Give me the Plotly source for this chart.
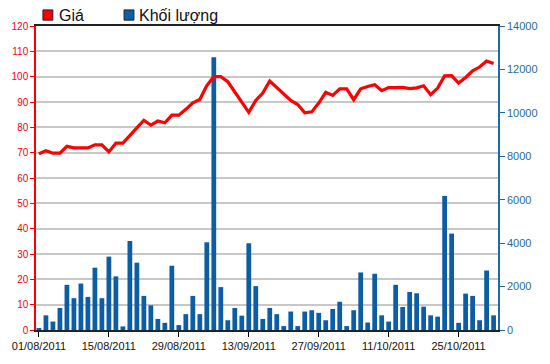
import pandas as pd
import plotly.graph_objects as go

# trading days 01/08/2011 .. 01/11/2011 (02/09 national holiday)
days = [d for d in pd.bdate_range("2011-08-01", "2011-11-01") if d.strftime("%d/%m") != "02/09"]
dates = [d.strftime("%d/%m/%Y") for d in days]

price = [69.6, 70.8, 69.8, 69.8, 72.5, 71.9, 71.9, 71.9, 73.1, 73.1,
         70.3, 73.8, 73.8, 77.0, 79.8, 82.8, 80.9, 82.5, 81.8, 84.8,
         84.8, 87.1, 89.7, 91.0, 96.5, 100.0, 100.0, 98.0, 94.0, 89.5,
         85.9, 90.6, 93.5, 98.3, 95.8, 93.2, 90.6, 89.0, 85.7, 86.1,
         89.6, 93.8, 92.6, 95.2, 95.2, 90.9, 95.2, 96.1, 96.8, 94.5,
         95.7, 95.7, 95.8, 95.3, 95.6, 96.4, 92.9, 95.5, 100.3, 100.4,
         97.5, 99.7, 102.3, 103.8, 106.2, 105.2]

volume = [75, 675, 390, 1015, 2080, 1465, 2140, 1525, 2870, 1465,
          3380, 2470, 165, 4100, 3100, 1570, 1135, 510, 330, 2960,
          225, 730, 1570, 730, 4040, 12560, 1975, 450, 1015, 660,
          3995, 2020, 510, 1015, 730, 180, 850, 180, 850, 910,
          790, 450, 970, 1300, 180, 910, 2650, 345, 2590, 675,
          390, 2080, 1060, 1750, 1690, 1075, 675, 615, 6175, 4440,
          330, 1675, 1570, 450, 2740, 675]

tick_labels = ["01/08/2011", "15/08/2011", "29/08/2011", "13/09/2011",
               "27/09/2011", "11/10/2011", "25/10/2011"]
legend_names = ["Giá", "Khối lượng"]

RED = "#ff0000"
BLUE = "#0b5ea6"
AXBLUE = "#1f6aa5"
FONT = "Liberation Sans, Arial, sans-serif"

fig = go.Figure()
fig.add_trace(go.Bar(x=dates, y=volume, name=legend_names[1], yaxis="y",
                     marker=dict(color=BLUE, line=dict(width=0)), showlegend=False))
fig.add_trace(go.Scatter(x=dates, y=price, name=legend_names[0], yaxis="y2",
                         mode="lines", line=dict(color=RED, width=3.2), showlegend=False))

L, R, T, B = 35, 48, 26, 26
W, H = 550, 364
PW, PH = W - L - R, H - T - B


def px(x):
    return (x - L) / PW


def py(y):
    return (H - B - y) / PH


shapes = [
    dict(type="rect", xref="paper", yref="paper", x0=px(42), x1=px(52), y0=py(20), y1=py(9.5),
         fillcolor=RED, line=dict(color="#222", width=1)),
    dict(type="rect", xref="paper", yref="paper", x0=px(124), x1=px(134), y0=py(20), y1=py(9.5),
         fillcolor=BLUE, line=dict(color="#222", width=1)),
]
annotations = [
    dict(xref="paper", yref="paper", x=px(56), y=py(15), xanchor="left", yanchor="middle",
         text=legend_names[0], showarrow=False, font=dict(family=FONT, size=16, color="#111")),
    dict(xref="paper", yref="paper", x=px(137), y=py(15), xanchor="left", yanchor="middle",
         text=legend_names[1], showarrow=False, font=dict(family=FONT, size=16, color="#111")),
]

fig.update_layout(
    width=W, height=H,
    margin=dict(l=L, r=R, t=T, b=B, pad=0),
    paper_bgcolor="white", plot_bgcolor="white",
    bargap=0.32,
    shapes=shapes, annotations=annotations,
    xaxis=dict(type="category", range=[-0.42, 65.63],
               tickmode="array", tickvals=tick_labels, ticktext=tick_labels,
               ticks="outside", ticklen=5, tickcolor="#000", tickwidth=1,
               showline=True, linecolor="#222", linewidth=1.5, mirror=True,
               showgrid=False, tickangle=0,
               tickfont=dict(family=FONT, size=11, color="#111")),
    yaxis=dict(side="right", range=[0, 14000], dtick=2000, tickformat="d",
               showgrid=False, zeroline=False,
               ticks="outside", ticklen=5, tickcolor=AXBLUE, tickwidth=1,
               showline=True, linecolor=AXBLUE, linewidth=1.5,
               tickfont=dict(family=FONT, size=11, color=AXBLUE)),
    yaxis2=dict(side="left", overlaying="y", range=[0, 120], dtick=10,
                showgrid=True, gridcolor="#c8c8c8", gridwidth=1.5, zeroline=False,
                ticks="outside", ticklen=4, tickcolor=RED, tickwidth=1,
                showline=True, linecolor=RED, linewidth=1.5,
                tickfont=dict(family=FONT, size=10, color=RED)),
)

fig.write_html("out.html")
